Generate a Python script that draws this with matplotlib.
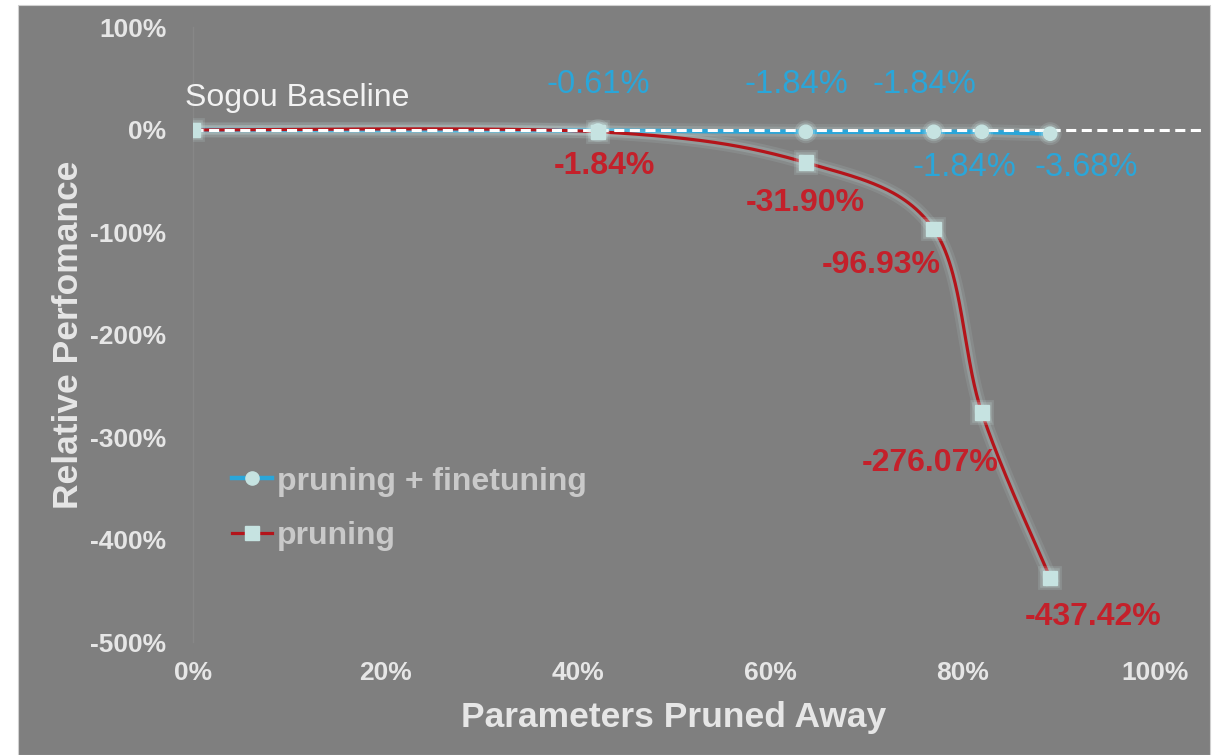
import numpy as np
import matplotlib
matplotlib.use("Agg")
import matplotlib.pyplot as plt
import matplotlib.patheffects as pe
from matplotlib.patches import Rectangle
from matplotlib.ticker import FuncFormatter

# ---- data ----
params_pruned = [0.0, 0.421, 0.637, 0.770, 0.820, 0.891]
pruning = [0.0, -1.84, -31.90, -96.93, -276.07, -437.42]
pruning_finetuning = [0.0, -0.61, -1.84, -1.84, -1.84, -3.68]
x_ticks = [0, 0.2, 0.4, 0.6, 0.8, 1.0]
y_ticks = [100, 0, -100, -200, -300, -400, -500]
baseline_label = "Sogou Baseline"

plt.rcParams['font.family'] = ['Liberation Sans', 'DejaVu Sans']

BG = '#7f7f7f'
BLUE = '#2aa6d9'
RED = '#b4141a'
RED_TXT = '#c4202a'
MARK = '#c6e3e1'
GLOW = '#d2f0ee'
TXT = '#e6e6e6'

fig = plt.figure(figsize=(12.23, 7.55), dpi=100, facecolor='white')
fig.patches.append(Rectangle((18/1223, 0), (1210-18)/1223, 1-5/755,
                             transform=fig.transFigure, facecolor=BG,
                             edgecolor='#d0d0d0', lw=0.8, zorder=-10))

ax = fig.add_axes([193/1223, 1-642/755, (1155-193)/1223, (642-27.5)/755])
ax.set_facecolor('none')
ax.set_xlim(0, 1.0)
ax.set_ylim(-500, 100)

# smoothed red curve (Catmull-Rom like Excel smoothing) in screen-ish scale
def smooth(xs, ys, sx=962.5, sy=1.025, n=60):
    P = np.column_stack([np.array(xs) * sx, np.array(ys) * sy])
    out = []
    for i in range(len(P) - 1):
        p0 = P[i - 1] if i > 0 else P[i]
        p1 = P[i]
        p2 = P[i + 1]
        p3 = P[i + 2] if i + 2 < len(P) else P[i + 1]
        c1 = p1 + (p2 - p0) / 6.0
        c2 = p2 - (p3 - p1) / 6.0
        t = np.linspace(0, 1, n)[:, None]
        seg = ((1 - t) ** 3) * p1 + 3 * ((1 - t) ** 2) * t * c1 + 3 * (1 - t) * t ** 2 * c2 + t ** 3 * p2
        out.append(seg if i == 0 else seg[1:])
    S = np.vstack(out)
    return S[:, 0] / sx, S[:, 1] / sy

glow_line = lambda w: [pe.Stroke(linewidth=w + 8, foreground=GLOW, alpha=0.10),
                       pe.Stroke(linewidth=w + 4, foreground=GLOW, alpha=0.16),
                       pe.Normal()]
glow_mark = [pe.Stroke(linewidth=7, foreground=GLOW, alpha=0.15),
             pe.Stroke(linewidth=4, foreground=GLOW, alpha=0.2), pe.Normal()]

# finetuning line
ax.plot(params_pruned, pruning_finetuning, color=BLUE, lw=3.2, zorder=3,
        solid_capstyle='round', path_effects=glow_line(3.2))
# pruning smooth line
sx_, sy_ = smooth(params_pruned, pruning)
ax.plot(sx_, sy_, color=RED, lw=2.3, zorder=4, path_effects=glow_line(2.3))

# baseline dashed
ax.plot([0, 1.052], [0, 0], color='white', lw=2.2, ls=(0, (3.3, 1.8)),
        zorder=5, clip_on=False)

# markers
ax.plot(params_pruned[1:], pruning_finetuning[1:], ls='none', marker='o', ms=9.5,
        mfc=MARK, mec=MARK, zorder=6, path_effects=glow_mark)
ax.plot(params_pruned, pruning, ls='none', marker='s', ms=10.5,
        mfc=MARK, mec=MARK, zorder=7, path_effects=glow_mark)

# legend handles (proxy)
h1, = ax.plot([], [], color=BLUE, lw=3.2, marker='o', ms=9.5, mfc=MARK, mec=MARK)
h2, = ax.plot([], [], color=RED, lw=2.3, marker='s', ms=10, mfc=MARK, mec=MARK)
leg = ax.legend([h1, h2], ['pruning + finetuning', 'pruning'], loc='upper left',
                bbox_to_anchor=(0.0405, 0.2855), frameon=False, handlelength=1.25,
                handletextpad=0.15, labelspacing=0.78, borderpad=0,
                borderaxespad=0, prop={'size': 23, 'weight': 'bold'})
for t in leg.get_texts():
    t.set_color('#c9c9c9')

# data labels
blue_offsets = [(0, 46), (-9, 47), (-9, 47), (-17, -36), (36, -34)]
for (x, y, (dx, dy)) in zip(params_pruned[1:], pruning_finetuning[1:], blue_offsets):
    ax.annotate(f"{y:.2f}%", (x, y), xytext=(dx, dy), textcoords='offset pixels',
                ha='center', va='center', color=BLUE, fontsize=23.5, zorder=8)
red_offsets = [(6, -34), (0, -40), (-52, -36), (-52, -50), (43, -39)]
for (x, y, (dx, dy)) in zip(params_pruned[1:], pruning[1:], red_offsets):
    ax.annotate(f"{y:.2f}%", (x, y), xytext=(dx, dy), textcoords='offset pixels',
                ha='center', va='center', color=RED_TXT, fontsize=23,
                fontweight='bold', zorder=8)
ax.annotate(baseline_label, (0, 0), xytext=(-8, 32), textcoords='offset pixels',
            ha='left', va='center', color='#f2f2f2', fontsize=23)

# axes styling
for s in ['top', 'right', 'bottom']:
    ax.spines[s].set_visible(False)
ax.spines['left'].set_color('#878787')
ax.spines['left'].set_linewidth(1)
ax.set_xticks(x_ticks)
ax.set_yticks(y_ticks)
ax.xaxis.set_major_formatter(FuncFormatter(lambda v, p: f"{v*100:.0f}%"))
ax.yaxis.set_major_formatter(FuncFormatter(lambda v, p: f"{v:.0f}%"))
ax.tick_params(axis='both', length=0, labelsize=19, labelcolor=TXT)
ax.tick_params(axis='y', pad=19)
ax.tick_params(axis='x', pad=14)
for lbl in ax.get_xticklabels() + ax.get_yticklabels():
    lbl.set_fontweight('bold')
ax.set_xlabel('Parameters Pruned Away', fontsize=25.5, fontweight='bold',
              color=TXT, labelpad=11)
ax.set_ylabel('Relative Perfomance', fontsize=25.5, fontweight='bold',
              color=TXT, labelpad=4)

fig.savefig('out.png', dpi=100, facecolor=fig.get_facecolor())
